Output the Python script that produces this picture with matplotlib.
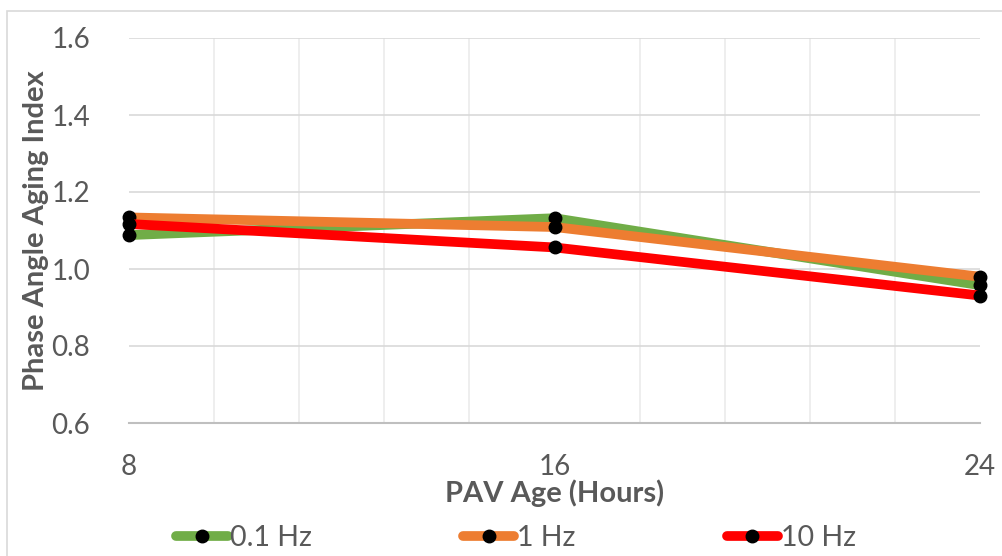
import matplotlib
matplotlib.use("Agg")
import matplotlib.pyplot as plt
from matplotlib.patches import Rectangle
import numpy as np

plt.rcParams['font.family'] = ['Lato', 'DejaVu Sans']

# PAV aging hours and phase angle aging index for each frequency
pav_hours = [8, 16, 24]
idx_01hz = [1.088, 1.132, 0.958]
idx_1hz = [1.134, 1.109, 0.980]
idx_10hz = [1.117, 1.056, 0.931]

series = [
    ("0.1 Hz", idx_01hz, "#70AD47"),
    ("1 Hz", idx_1hz, "#ED7D31"),
    ("10 Hz", idx_10hz, "#FF0000"),
]

fig = plt.figure(figsize=(10.03, 5.56), dpi=100)
ax = fig.add_axes([129 / 1003, 133 / 556, 851 / 1003, 385 / 556])

for name, vals, col in series:
    ax.plot(pav_hours, vals, color=col, linewidth=7, solid_capstyle='round',
            marker='o', markersize=9, markerfacecolor='black',
            markeredgecolor='black', label=name, clip_on=False)

ax.set_xlim(8, 24)
ax.set_ylim(0.6, 1.6)
ax.set_xticks([8, 16, 24])
ax.set_xticks(np.linspace(8, 24, 11), minor=True)
ax.set_yticks([0.6, 0.8, 1.0, 1.2, 1.4, 1.6])
ax.set_yticklabels(["0.6", "0.8", "1.0", "1.2", "1.4", "1.6"])

ax.grid(True, axis='y', which='major', color='#D9D9D9', linewidth=1.2)
ax.grid(True, axis='x', which='minor', color='#EBEBEB', linewidth=1.2)
ax.set_axisbelow(True)

for s in ['top', 'right', 'left']:
    ax.spines[s].set_visible(False)
ax.spines['bottom'].set_color('#BFBFBF')
ax.spines['bottom'].set_linewidth(1.5)

ax.tick_params(axis='both', which='both', length=0, labelsize=20, colors='#595959')
ax.tick_params(axis='y', pad=28)
ax.tick_params(axis='x', pad=22)

ax.set_xlabel("PAV Age (Hours)", fontsize=21, fontweight='bold', color='#595959', va='center')
ax.xaxis.set_label_coords(0.5, -0.183)
ax.set_ylabel("Phase Angle Aging Index", fontsize=21, fontweight='bold', color='#595959', labelpad=2)

fig.legend(loc='center', bbox_to_anchor=(516 / 1003, 1 - 538 / 556), ncol=3,
           frameon=False, fontsize=20.5, handlelength=1.8, handletextpad=0.1,
           columnspacing=5.3, labelcolor='#595959')

# outer chart frame
fig.patches.append(Rectangle((7 / 1003, -0.05), 1.1, 1 - 11 / 556 + 0.05,
                             transform=fig.transFigure, fill=False,
                             edgecolor='#D9D9D9', linewidth=1.2))

fig.savefig("out.png", dpi=100)
